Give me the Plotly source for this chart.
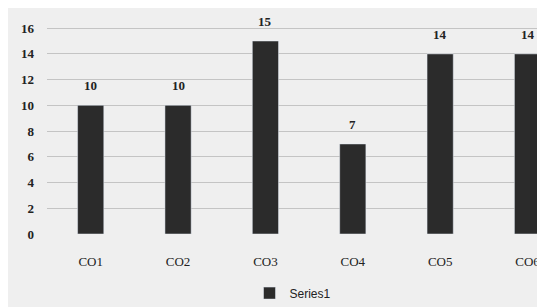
import plotly.graph_objects as go

categories = ["CO1", "CO2", "CO3", "CO4", "CO5", "CO6"]
values = [10, 10, 15, 7, 14, 14]
y_ticks = [0, 2, 4, 6, 8, 10, 12, 14, 16]

fig = go.Figure()
fig.add_trace(go.Bar(
    x=categories, y=values, name="Series1",
    marker=dict(color="#2b2b2b"),
    width=0.3,
))
for c, v in zip(categories, values):
    fig.add_annotation(x=c, y=v, text=f"<b>{v}</b>", showarrow=False,
                       yanchor="bottom", yshift=10,
                       font=dict(family="Liberation Serif", size=13, color="#222222"))
fig.update_layout(
    width=545, height=307,
    margin=dict(l=39, r=8, t=15, b=77),
    paper_bgcolor="#efefef", plot_bgcolor="#efefef",
    showlegend=True,
    legend=dict(orientation="h", x=0.494, xanchor="center", y=-0.28, yanchor="middle",
                font=dict(family="Liberation Sans", size=12, color="#222222"), bgcolor="rgba(0,0,0,0)"),
    font=dict(family="Liberation Serif", color="#222222"),
)
fig.update_xaxes(range=[-0.5, 5.2], showgrid=False, showline=False, ticks="",
                 tickfont=dict(family="Liberation Serif", size=13, color="#222222"),
                 ticklabelstandoff=18)
fig.update_yaxes(range=[0, 16.4], tickvals=y_ticks, ticktext=[f"<b>{t}</b>" for t in y_ticks],
                 showgrid=True, gridcolor="#c4c4c4",
                 zeroline=False, showline=False,
                 tickfont=dict(family="Liberation Serif", size=13, color="#222222"),
                 ticklabelstandoff=12)
fig.write_html("out.html")
